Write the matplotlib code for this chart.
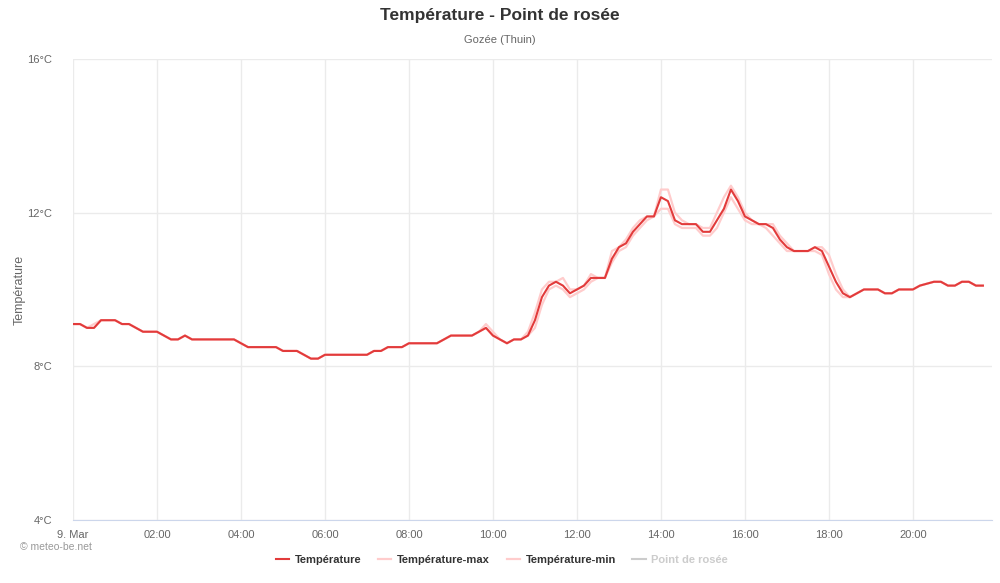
import matplotlib
matplotlib.use("Agg")
import matplotlib.pyplot as plt
import matplotlib.dates as mdates
import pandas as pd

plt.rcParams['font.family'] = ['Liberation Sans', 'DejaVu Sans']

times = pd.date_range("2024-03-09 00:00", periods=131, freq="10min")

temperature = [
    9.1, 9.1, 9.0, 9.0, 9.2, 9.2,
    9.2, 9.1, 9.1, 9.0, 8.9, 8.9,
    8.9, 8.8, 8.7, 8.7, 8.8, 8.7,
    8.7, 8.7, 8.7, 8.7, 8.7, 8.7,
    8.6, 8.5, 8.5, 8.5, 8.5, 8.5,
    8.4, 8.4, 8.4, 8.3, 8.2, 8.2,
    8.3, 8.3, 8.3, 8.3, 8.3, 8.3,
    8.3, 8.4, 8.4, 8.5, 8.5, 8.5,
    8.6, 8.6, 8.6, 8.6, 8.6, 8.7,
    8.8, 8.8, 8.8, 8.8, 8.9, 9.0,
    8.8, 8.7, 8.6, 8.7, 8.7, 8.8,
    9.2, 9.8, 10.1, 10.2, 10.1, 9.9,
    10.0, 10.1, 10.3, 10.3, 10.3, 10.8,
    11.1, 11.2, 11.5, 11.7, 11.9, 11.9,
    12.4, 12.3, 11.8, 11.7, 11.7, 11.7,
    11.5, 11.5, 11.8, 12.1, 12.6, 12.3,
    11.9, 11.8, 11.7, 11.7, 11.6, 11.3,
    11.1, 11.0, 11.0, 11.0, 11.1, 11.0,
    10.6, 10.2, 9.9, 9.8, 9.9, 10.0,
    10.0, 10.0, 9.9, 9.9, 10.0, 10.0,
    10.0, 10.1, 10.15, 10.2, 10.2, 10.1,
    10.1, 10.2, 10.2, 10.1, 10.1,
]

temperature_max = [
    9.1, 9.1, 9.0, 9.1, 9.2, 9.2,
    9.2, 9.1, 9.1, 9.0, 8.9, 8.9,
    8.9, 8.8, 8.7, 8.7, 8.8, 8.7,
    8.7, 8.7, 8.7, 8.7, 8.7, 8.7,
    8.6, 8.5, 8.5, 8.5, 8.5, 8.5,
    8.4, 8.4, 8.4, 8.3, 8.2, 8.2,
    8.3, 8.3, 8.3, 8.3, 8.3, 8.3,
    8.3, 8.4, 8.4, 8.5, 8.5, 8.5,
    8.6, 8.6, 8.6, 8.6, 8.6, 8.7,
    8.8, 8.8, 8.8, 8.8, 8.9, 9.1,
    8.9, 8.7, 8.6, 8.7, 8.7, 8.9,
    9.4, 10.0, 10.2, 10.2, 10.3, 10.0,
    10.0, 10.1, 10.4, 10.3, 10.3, 11.0,
    11.1, 11.3, 11.6, 11.8, 11.9, 11.9,
    12.6, 12.6, 12.0, 11.8, 11.7, 11.7,
    11.6, 11.6, 12.0, 12.4, 12.7, 12.4,
    12.0, 11.8, 11.7, 11.7, 11.7, 11.4,
    11.2, 11.0, 11.0, 11.0, 11.1, 11.1,
    10.9, 10.4, 10.0, 9.8, 9.9, 10.0,
    10.0, 10.0, 9.9, 9.9, 10.0, 10.0,
    10.0, 10.1, 10.15, 10.2, 10.2, 10.1,
    10.1, 10.2, 10.2, 10.1, 10.1,
]

temperature_min = [
    9.1, 9.1, 9.0, 9.0, 9.2, 9.2,
    9.2, 9.1, 9.1, 9.0, 8.9, 8.9,
    8.9, 8.8, 8.7, 8.7, 8.8, 8.7,
    8.7, 8.7, 8.7, 8.7, 8.7, 8.7,
    8.6, 8.5, 8.5, 8.5, 8.5, 8.5,
    8.4, 8.4, 8.4, 8.3, 8.2, 8.2,
    8.3, 8.3, 8.3, 8.3, 8.3, 8.3,
    8.3, 8.4, 8.4, 8.5, 8.5, 8.5,
    8.6, 8.6, 8.6, 8.6, 8.6, 8.7,
    8.8, 8.8, 8.8, 8.8, 8.9, 9.0,
    8.8, 8.7, 8.6, 8.7, 8.7, 8.8,
    9.0, 9.6, 10.0, 10.1, 10.0, 9.8,
    9.9, 10.0, 10.2, 10.3, 10.3, 10.7,
    11.0, 11.1, 11.4, 11.6, 11.8, 11.9,
    12.1, 12.1, 11.7, 11.6, 11.6, 11.6,
    11.4, 11.4, 11.6, 12.0, 12.4, 12.1,
    11.8, 11.7, 11.7, 11.6, 11.4, 11.2,
    11.0, 11.0, 11.0, 11.0, 11.0, 10.9,
    10.4, 10.0, 9.8, 9.8, 9.9, 10.0,
    10.0, 10.0, 9.9, 9.9, 10.0, 10.0,
    10.0, 10.1, 10.15, 10.2, 10.2, 10.1,
    10.1, 10.2, 10.2, 10.1, 10.1,
]

y_ticks = [4, 8, 12, 16]

fig = plt.figure(figsize=(10, 5.83), dpi=100)
ax = fig.add_axes([0.073, 0.108, 0.919, 0.791])

ax.plot(times, temperature_max, color='#ffcccc', lw=1.6, label='Température-max')
ax.plot(times, temperature_min, color='#ffcccc', lw=1.6, label='Température-min')
ax.plot(times, temperature, color='#e23b3b', lw=1.5, label='Température')
dew, = ax.plot([], [], color='#cccccc', lw=1.5, label='Point de rosée')

ax.set_ylim(4, 16)
ax.set_yticks(y_ticks)
ax.set_yticklabels([f"{v}°C" for v in y_ticks])
ax.set_xlim(pd.Timestamp("2024-03-09 00:00"), pd.Timestamp("2024-03-09 21:53"))
ax.xaxis.set_major_locator(mdates.HourLocator(byhour=range(0, 24, 2)))
fmt = mdates.DateFormatter('%H:%M')
ax.xaxis.set_major_formatter(plt.FuncFormatter(
    lambda v, p: '9. Mar' if mdates.num2date(v).hour == 0 else fmt(v)))

ax.grid(True, color='#ebebeb', lw=1)
ax.set_axisbelow(True)
for s in ['top', 'right', 'left']:
    ax.spines[s].set_visible(False)
ax.spines['bottom'].set_color('#ccd6eb')
ax.tick_params(axis='y', length=0, colors='#666666', labelsize=8, pad=15)
ax.tick_params(axis='x', length=0, colors='#666666', labelsize=8, pad=7)
ax.set_ylabel('Température', color='#666666', fontsize=9)
ax.yaxis.set_label_coords(-0.052, 0.5)

fig.text(0.5, 0.973, 'Température - Point de rosée', ha='center', va='center',
         fontsize=12.5, fontweight='bold', color='#333333')
fig.text(0.5, 0.931, 'Gozée (Thuin)', ha='center', va='center',
         fontsize=8, color='#666666')
fig.text(0.02, 0.062, '© meteo-be.net', ha='left', va='center',
         fontsize=7.5, color='#999999')

h, l = ax.get_legend_handles_labels()
order = [2, 0, 1, 3]
leg = fig.legend([h[i] for i in order], [l[i] for i in order], loc='center',
                 bbox_to_anchor=(0.502, 0.04), ncol=4, frameon=False,
                 handlelength=1.2, columnspacing=1.5, handletextpad=0.5,
                 prop={'weight': 'bold', 'size': 8})
for t in leg.get_texts():
    t.set_color('#cccccc' if t.get_text() == 'Point de rosée' else '#333333')

fig.savefig('out.png', dpi=100, facecolor='white')
